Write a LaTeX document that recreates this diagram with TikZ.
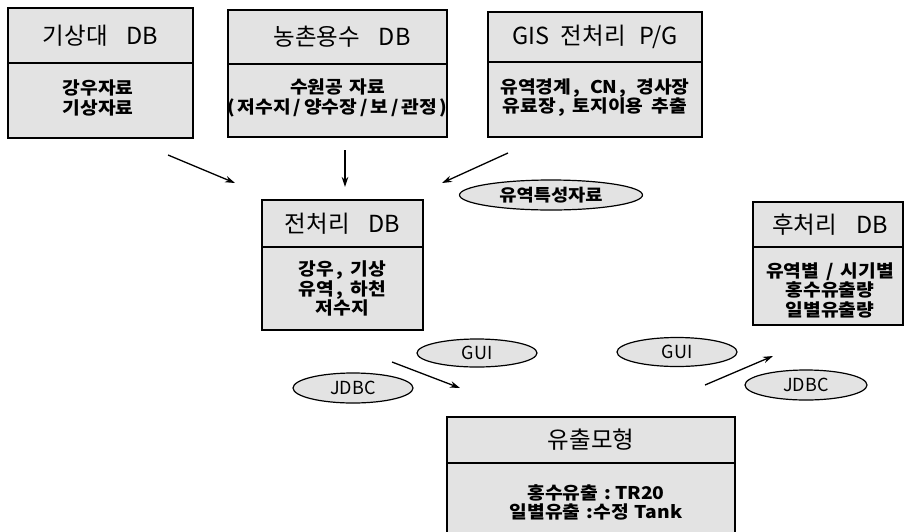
\documentclass[tikz,border=0pt]{standalone}
\usepackage{fontspec}
\setmainfont{Noto Sans CJK KR}
\newfontfamily\krw[FakeStretch=1.1]{Noto Sans CJK KR}
\usetikzlibrary{arrows.meta,shapes.geometric}
\newcommand{\myslash}{\kern3pt/\kern3pt}
\newcommand{\mycomma}{\kern2pt,}
\tikzset{
  x=1pt, y=-1pt,
  dbbox/.style={draw, line width=1.3pt, fill=gray!22, inner sep=0pt},
  divider/.style={line width=1.3pt},
  headtext/.style={font=\fontsize{23.5}{26}\selectfont, inner sep=0pt},
  bodytext/.style={font=\krw\bfseries\fontsize{17.5}{19.5}\selectfont, align=center, inner sep=0pt},
  oval/.style={ellipse, draw, line width=1.2pt, fill=gray!22, inner sep=0pt},
  ovaltext/.style={font=\fontsize{18}{20}\selectfont},
  flow/.style={-{Stealth[length=10pt,width=6.5pt]}, line width=1.3pt},
}
\begin{document}
\begin{tikzpicture}
\useasboundingbox (0,0) rectangle (905,531);
\clip (0,0) rectangle (905,531);
\fill[white] (0,0) rectangle (905,531);

% box 1
\node[dbbox, minimum width=185pt, minimum height=130pt] (b1) at (100.5,73) {};
\draw[divider] (b1.west |- 0,63) -- (b1.east |- 0,63);
\node[headtext] (h1) at (100.5,36) {기상대\hspace{0.8em}DB};
\node[bodytext] (t1) at (98,98) {강우자료\\기상자료};

% box 2
\node[dbbox, minimum width=219pt, minimum height=127pt] (b2) at (337.5,73.5) {};
\draw[divider] (b2.west |- 0,64) -- (b2.east |- 0,64);
\node[headtext] (h2) at (342,37) {농촌용수\hspace{0.8em}DB};
\node[bodytext] (t2) at (337.5,98) {수원공\hspace{6pt}자료\\(\kern2pt저수지\myslash 양수장\myslash 보\myslash 관정\kern2pt)};

% box 3
\node[dbbox, minimum width=214pt, minimum height=125pt] (b3) at (595,74.5) {};
\draw[divider] (b3.west |- 0,62) -- (b3.east |- 0,62);
\node[headtext] (h3) at (595,37) {GIS\hspace{0.5em}전처리\hspace{0.6em}P/G};
\node[bodytext] (t3) at (595,97.5) {유역경계\mycomma\hspace{10pt}CN\mycomma\hspace{10pt}경사장\\유료장\mycomma\hspace{8pt}토지이용\hspace{8pt}추출};

% box 4
\node[dbbox, minimum width=161pt, minimum height=130pt] (b4) at (342.5,265) {};
\draw[divider] (b4.west |- 0,247) -- (b4.east |- 0,247);
\node[headtext] (h4) at (342.5,223.5) {전처리\hspace{0.8em}DB};
\node[bodytext] (t4) at (342.5,288.5) {강우\mycomma\hspace{8pt}기상\\유역\mycomma\hspace{8pt}하천\\저수지};

% box 5
\node[dbbox, minimum width=150pt, minimum height=123pt] (b5) at (828,263.5) {};
\draw[divider] (b5.west |- 0,247) -- (b5.east |- 0,247);
\node[headtext] (h5) at (830,224.5) {후처리\hspace{0.8em}DB};
\node[bodytext] (t5) at (830,290) {유역별\hspace{7pt}/\hspace{7pt}시기별\\홍수유출량\\일별유출량};

% box 6
\node[dbbox, minimum width=288pt, minimum height=119pt] (b6) at (591,476.5) {};
\draw[divider] (b6.west |- 0,463) -- (b6.east |- 0,463);
\node[headtext] (h6) at (591,440) {유출모형};
\node[bodytext] (t6) at (596,502.5) {홍수유출\hspace{6pt}:\hspace{4pt}TR20\\일별유출\hspace{6pt}:수정\hspace{6pt}Tank};

% ovals
\node[oval, minimum width=183pt, minimum height=30pt, font=\krw\bfseries\fontsize{17}{18}\selectfont] (e1) at (551,195) {유역특성자료};
\node[oval, minimum width=120pt, minimum height=28pt, ovaltext] (e2) at (477,353) {GUI};
\node[oval, minimum width=120pt, minimum height=30pt, ovaltext] (e3) at (353,388) {JDBC};
\node[oval, minimum width=120pt, minimum height=29pt, ovaltext] (e4) at (677,352) {GUI};
\node[oval, minimum width=122pt, minimum height=30pt, ovaltext] (e5) at (806,385) {JDBC};

% arrow end points
\coordinate (a1s) at (168,155); \coordinate (a1e) at (235,183);
\coordinate (a2s) at (345,150); \coordinate (a2e) at (345,187);
\coordinate (a3s) at (508,153); \coordinate (a3e) at (442,183);
\coordinate (a4s) at (392,362); \coordinate (a4e) at (460,388);
\coordinate (a5s) at (705,385); \coordinate (a5e) at (773,356);

\draw[flow] (a1s) -- (a1e);
\draw[flow] (a2s) -- (a2e);
\draw[flow] (a3s) -- (a3e);
\draw[flow] (a4s) -- (a4e);
\draw[flow] (a5s) -- (a5e);
\end{tikzpicture}
\end{document}
